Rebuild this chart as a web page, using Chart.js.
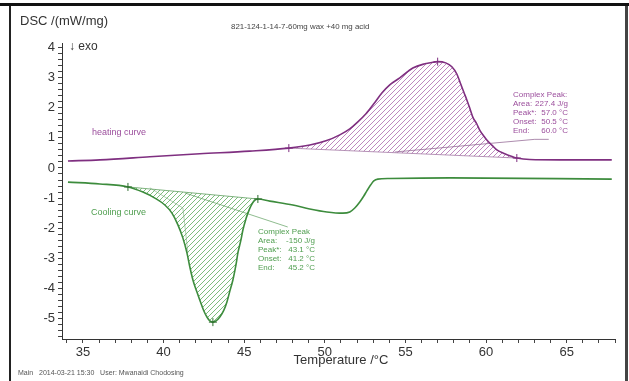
<!DOCTYPE html>
<html><head><meta charset="utf-8">
<script src="https://cdn.jsdelivr.net/npm/chart.js@4.4.1/dist/chart.umd.min.js"></script>
<style>
html,body{margin:0;padding:0;background:#fff;}
#wrap{position:relative;width:629px;height:381px;overflow:hidden;}
#frame{position:absolute;left:9px;top:4px;width:614px;height:400px;border-left:2px solid #222;border-right:3px solid #444;pointer-events:none;}
#topline{position:absolute;left:0;top:3px;width:629px;height:3px;background:#111;pointer-events:none;}
canvas{position:absolute;left:0;top:0;}
</style></head><body>
<div id="wrap"><canvas id="c" width="629" height="381"></canvas><div id="frame"></div><div id="topline"></div></div>
<script>
// ---- data ----
const heatingT   = [34.07,36.05,39.15,42.25,45.35,47.77,49.07,50.07,50.93,51.55,52.05,52.54,53.04,53.54,54.03,54.65,55.46,56.20,56.70,57.00,57.50,57.88,58.19,58.43,58.62,58.81,58.99,59.18,59.43,59.61,59.86,60.05,60.36,60.67,61.16,61.66,61.91,62.71,64.57,67.80];
const heatingDSC = [0.23,0.27,0.37,0.47,0.56,0.66,0.76,0.90,1.10,1.30,1.53,1.79,2.13,2.49,2.76,2.99,3.32,3.46,3.51,3.53,3.49,3.36,3.12,2.79,2.52,2.26,1.99,1.69,1.46,1.26,1.06,0.93,0.76,0.60,0.47,0.37,0.33,0.28,0.27,0.27];
const coolingT   = [34.07,36.05,37.79,38.72,39.46,40.08,40.52,40.89,41.20,41.45,41.63,41.82,42.07,42.25,42.50,42.69,42.87,43.06,43.25,43.49,43.74,43.93,44.11,44.30,44.49,44.61,44.80,44.92,45.11,45.23,45.42,45.60,45.85,46.59,48.02,49.07,50.13,51.12,51.55,51.86,52.17,52.42,52.61,52.85,53.04,53.29,54.03,57.75,67.80];
const coolingDSC = [-0.47,-0.53,-0.63,-0.80,-1.00,-1.23,-1.50,-1.89,-2.33,-2.82,-3.29,-3.72,-4.12,-4.39,-4.75,-4.95,-5.08,-5.12,-5.08,-4.95,-4.72,-4.45,-4.09,-3.72,-3.22,-2.82,-2.39,-2.06,-1.69,-1.50,-1.26,-1.10,-1.03,-1.10,-1.23,-1.36,-1.46,-1.50,-1.46,-1.33,-1.13,-0.93,-0.76,-0.56,-0.43,-0.37,-0.35,-0.33,-0.37];
const heatingLimits = [47.77, 61.91];
const coolingLimits = [37.79, 45.85];
const heatingMarkT = [47.77, 57.0, 61.91];
const heatingMarkDSC = [0.66, 3.53, 0.33];
const coolingMarkT = [37.79, 43.06, 45.85];
const coolingMarkDSC = [-0.63, -5.12, -1.03];
const heatingLeaderT = [54.34, 63.02, 63.89];
const heatingLeaderDSC = [0.53, 0.95, 0.95];
const coolingLeaderT = [41.32, 47.70];
const coolingLeaderDSC = [-0.83, -1.96];
const coolingOnsetT = [39.15, 41.20, 41.51];
const coolingOnsetDSC = [-0.66, -1.33, -2.82];
const xTickLabels = [35,40,45,50,55,60,65];
const yTickLabels = [4,3,2,1,0,-1,-2,-3,-4,-5];
const heatingBox = [["Complex Peak:",""],["Area:","227.4 J/g"],["Peak*:","57.0 °C"],["Onset:","50.5 °C"],["End:","60.0 °C"]];
const coolingBox = [["Complex Peak",""],["Area:","-150 J/g"],["Peak*:","43.1 °C"],["Onset:","41.2 °C"],["End:","45.2 °C"]];

const PURPLE = '#7f2f80', PURPLE_T = '#9b4d9c', GREEN = '#3d8c3d', GREEN_T = '#4f9e4f';
const FONT = '"Liberation Sans", Arial, sans-serif';

function pts(t, v){ return t.map((x,i)=>({x:x, y:v[i]})); }
function within(t, v, lim){ return pts(t,v).filter(p=>p.x>=lim[0]-1e-9 && p.x<=lim[1]+1e-9); }
function hatch(color){
  const c=document.createElement('canvas'); c.width=5; c.height=5;
  const g=c.getContext('2d'); g.strokeStyle=color; g.lineWidth=0.9;
  g.beginPath(); g.moveTo(0,5); g.lineTo(5,0); g.moveTo(-1,1); g.lineTo(1,-1); g.moveTo(4,6); g.lineTo(6,4); g.stroke();
  return g.createPattern(c,'repeat');
}
const isWhole = v => Math.abs(v-Math.round(v))<1e-6;

const textPlugin = {
  id:'texts',
  afterDraw(chart){
    const ctx=chart.ctx; ctx.save(); ctx.textBaseline='middle';
    const t=(s,x,y,size,color,align)=>{ctx.font=size+'px '+FONT; ctx.fillStyle=color; ctx.textAlign=align||'left'; ctx.fillText(s,x,y);};
    t('DSC /(mW/mg)',20,21,13,'#333');
    t('821-124-1-14-7-60mg wax +40 mg acid',231,27,7.9,'#444');
    t('\u2193 exo',69,47,12,'#333');
    t('heating curve',92,133,9,PURPLE_T);
    t('Cooling curve',91,213,9,GREEN_T);
    heatingBox.forEach((r,i)=>{ t(r[0],513,95+i*9,8,PURPLE_T); if(r[1]) t(r[1],568,95+i*9,8,PURPLE_T,'right'); });
    coolingBox.forEach((r,i)=>{ t(r[0],258,232+i*9,8,GREEN_T); if(r[1]) t(r[1],315,232+i*9,8,GREEN_T,'right'); });
    t('Temperature /\u00B0C',341,360,13,'#333','center');
    t('Main   2014-03-21 15:30   User: Mwanaidi Chodosing',18,373,7,'#555');
    ctx.restore();
  }
};

new Chart(document.getElementById('c'),{
  type:'line',
  data:{datasets:[
    {data:within(heatingT,heatingDSC,heatingLimits),fill:'shape',backgroundColor:hatch('#b77ab8'),borderWidth:0,pointRadius:0,cubicInterpolationMode:'monotone',order:10},
    {data:within(coolingT,coolingDSC,coolingLimits),fill:'shape',backgroundColor:hatch('#6fb46f'),borderWidth:0,pointRadius:0,cubicInterpolationMode:'monotone',order:10},
    {data:[{x:heatingLimits[0],y:heatingDSC[heatingT.indexOf(heatingLimits[0])]},{x:heatingLimits[1],y:heatingDSC[heatingT.indexOf(heatingLimits[1])]}],borderColor:'#a57aa6',borderWidth:0.8,pointRadius:0,fill:false,order:5},
    {data:[{x:coolingLimits[0],y:coolingDSC[coolingT.indexOf(coolingLimits[0])]},{x:coolingLimits[1],y:coolingDSC[coolingT.indexOf(coolingLimits[1])]}],borderColor:'#5f9f5f',borderWidth:0.8,pointRadius:0,fill:false,order:5},
    {data:pts(heatingLeaderT,heatingLeaderDSC),borderColor:'#8a5a8b',borderWidth:0.7,pointRadius:0,fill:false,order:5},
    {data:pts(coolingLeaderT,coolingLeaderDSC),borderColor:'#5f9f5f',borderWidth:0.7,pointRadius:0,fill:false,order:5},
    {data:pts(coolingOnsetT,coolingOnsetDSC),borderColor:'#7fb07f',borderWidth:0.6,pointRadius:0,fill:false,order:5},
    {data:pts(heatingT,heatingDSC),borderColor:PURPLE,borderWidth:1.6,pointRadius:0,fill:false,cubicInterpolationMode:'monotone',order:2},
    {data:pts(coolingT,coolingDSC),borderColor:GREEN,borderWidth:1.6,pointRadius:0,fill:false,cubicInterpolationMode:'monotone',order:2},
    {data:pts(heatingMarkT,heatingMarkDSC),showLine:false,pointStyle:'cross',pointRadius:4,borderColor:PURPLE,borderWidth:1,order:1},
    {data:pts(coolingMarkT,coolingMarkDSC),showLine:false,pointStyle:'cross',pointRadius:4,borderColor:'#2d6e2d',borderWidth:1,order:1}
  ]},
  options:{
    responsive:false, animation:false, devicePixelRatio:1,
    layout:{padding:{top:43,right:14,left:0,bottom:0}},
    plugins:{legend:{display:false},tooltip:{enabled:false}},
    scales:{
      x:{type:'linear',min:33.7,max:68,
        afterFit(s){s.height=42;},
        grid:{drawOnChartArea:false,tickLength:4,color:'#444',tickColor:'#444'},
        border:{display:true,color:'#333',width:1},
        ticks:{stepSize:1,includeBounds:false,autoSkip:false,maxRotation:0,padding:2,color:'#333',font:{family:FONT,size:13},
          callback:v=>xTickLabels.some(l=>Math.abs(l-v)<1e-6)?String(Math.round(v)):''}},
      y:{type:'linear',min:-5.68,max:4.15,
        afterFit(s){s.width=62;},
        grid:{drawOnChartArea:false,tickLength:4,color:'#444',tickColor:'#444'},
        border:{display:true,color:'#333',width:1},
        ticks:{stepSize:0.2,includeBounds:false,autoSkip:false,padding:3,color:'#333',font:{family:FONT,size:13},
          callback:v=>(isWhole(v)&&yTickLabels.includes(Math.round(v)))?String(Math.round(v)):''}}
    }
  },
  plugins:[textPlugin]
});
</script></body></html>
